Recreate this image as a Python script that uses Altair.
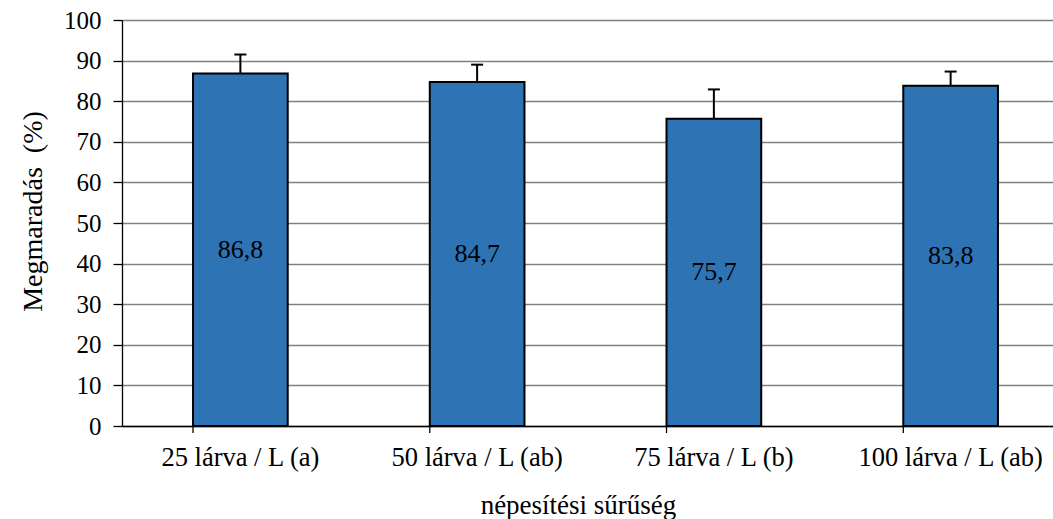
import altair as alt
import pandas as pd

categories = ["25 lárva / L (a)", "50 lárva / L (ab)", "75 lárva / L (b)", "100 lárva / L (ab)"]
values = [86.8, 84.7, 75.7, 83.8]
errors = [4.7, 4.3, 7.2, 3.5]
labels = ["86,8", "84,7", "75,7", "83,8"]

df = pd.DataFrame({
    "cat": categories,
    "val": values,
    "upper": [v + e for v, e in zip(values, errors)],
    "mid": [v / 2 for v in values],
    "lab": labels,
})

FONT = "Liberation Serif"
W, H = 931, 406

xscale = alt.Scale(domain=categories, range=[0, 947], paddingInner=0.6, paddingOuter=0.3)
yscale = alt.Scale(domain=[0, 100], nice=False)

xenc = alt.X("cat:N", scale=xscale, sort=categories,
             axis=alt.Axis(title="népesítési sűrűség", labelAngle=0, ticks=False,
                           domainColor="black", domainWidth=1.3,
                           labelFont=FONT, labelFontSize=26.5, labelColor="black",
                           labelPadding=39, labelBaseline="alphabetic",
                           labelLimit=0, labelOverlap=False,
                           titleFont=FONT, titleFontSize=27, titleFontWeight="normal",
                           titleColor="black", titleX=456, titleY=87,
                           titleBaseline="alphabetic", grid=False))
yenc = alt.Y("val:Q", scale=yscale,
             axis=alt.Axis(title="Megmaradás\u00a0\u00a0(%)", values=list(range(0, 101, 10)),
                           grid=True, gridColor="#808080", gridWidth=1.3,
                           domainColor="black", domainWidth=1.3,
                           tickColor="black", tickSize=9, tickWidth=1.3,
                           labelFont=FONT, labelFontSize=25, labelColor="black",
                           labelPadding=12,
                           titleFont=FONT, titleFontSize=28, titleFontWeight="normal",
                           titleColor="black", titleX=-81, titleY=191,
                           titleBaseline="alphabetic", titleAngle=-90))

base = alt.Chart(df)

bars = base.mark_bar(color="#2E74B5", stroke="black", strokeWidth=2).encode(x=xenc, y=yenc)

err = base.mark_rule(color="black", strokeWidth=2).encode(
    x=alt.X("cat:N", scale=xscale, sort=categories),
    y=alt.Y("val:Q", scale=yscale),
    y2="upper:Q",
)
caps = base.mark_tick(color="black", thickness=2, size=12, opacity=1).encode(
    x=alt.X("cat:N", scale=xscale, sort=categories),
    y=alt.Y("upper:Q", scale=yscale),
)
txt = base.mark_text(font=FONT, fontSize=26, color="black", baseline="middle").encode(
    x=alt.X("cat:N", scale=xscale, sort=categories),
    y=alt.Y("mid:Q", scale=yscale),
    text="lab:N",
)
xticks = base.mark_rule(color="black", strokeWidth=1.3).encode(
    x=alt.X("cat:N", scale=xscale, sort=categories, bandPosition=0),
    y=alt.value(H),
    y2=alt.value(H + 7),
)

chart = alt.layer(bars, err, caps, txt, xticks).properties(
    width=W, height=H,
    autosize=alt.AutoSizeParams(type="none"),
    padding={"left": 122, "top": 20, "right": 0, "bottom": 93},
    background="white",
).configure_view(stroke=None)

chart.save("out.html", embed_options={"renderer": "svg", "actions": False})
